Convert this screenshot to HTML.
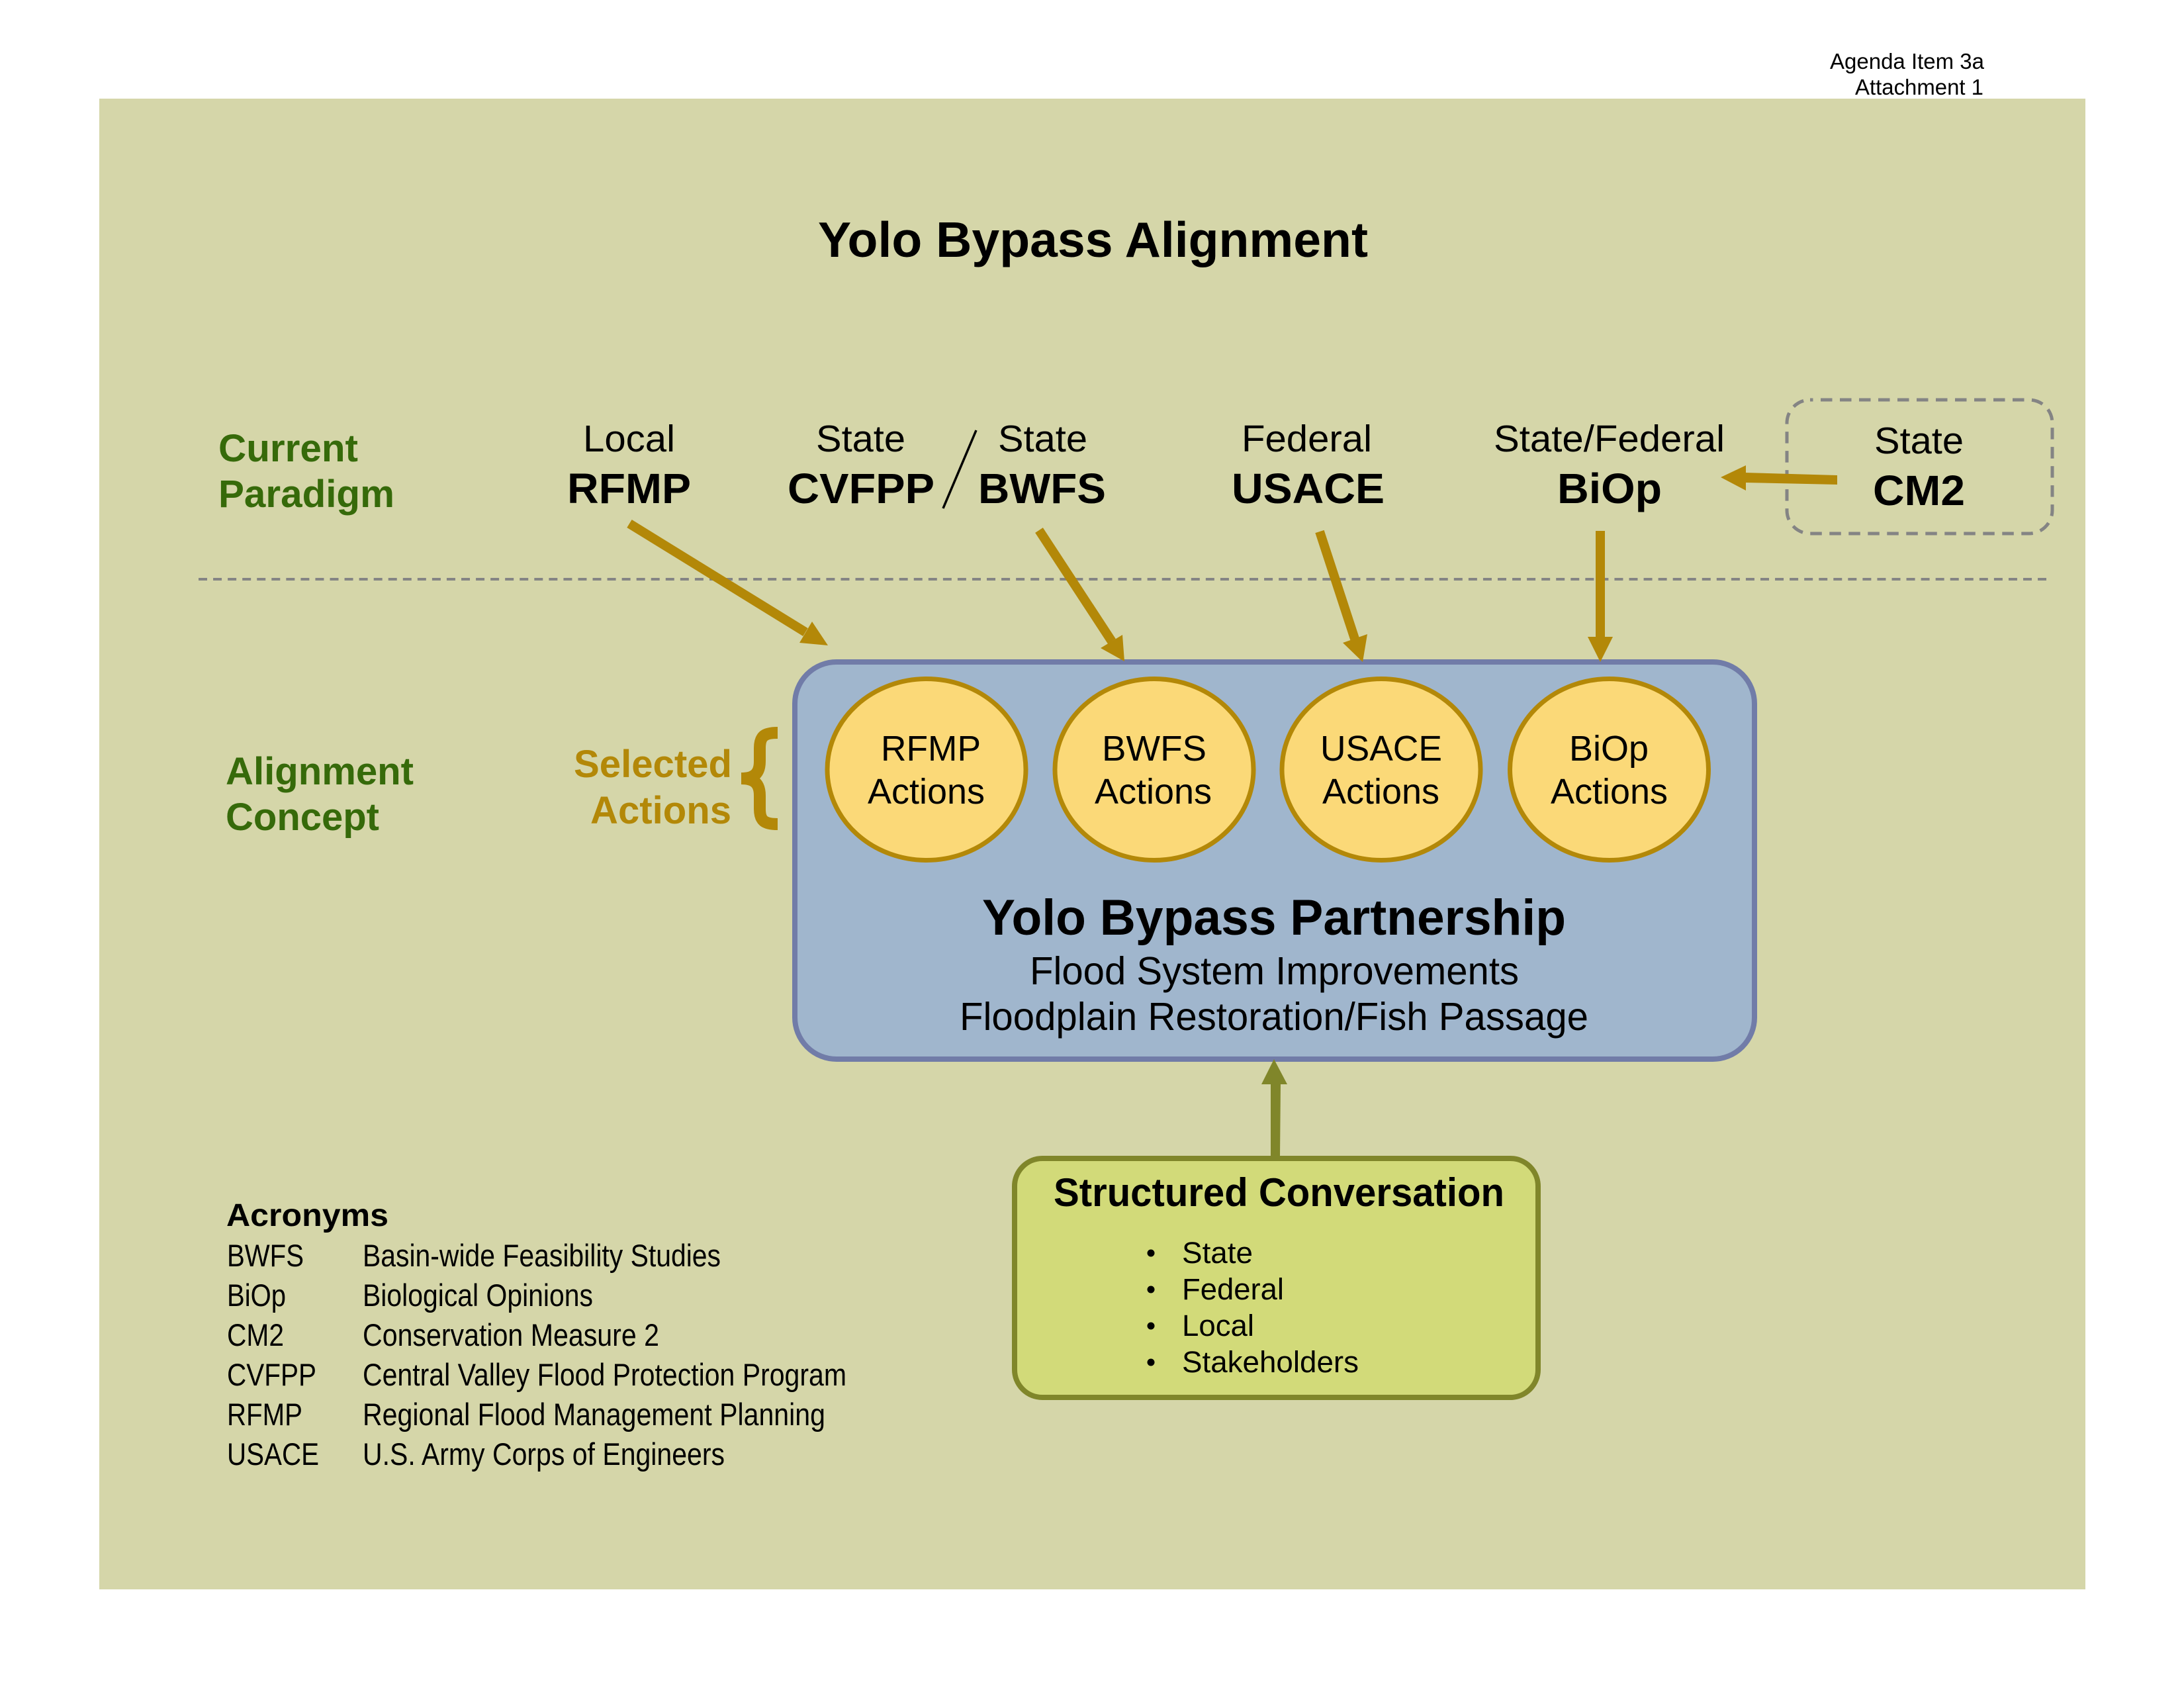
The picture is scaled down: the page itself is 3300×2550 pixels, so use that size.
<!DOCTYPE html>
<html>
<head>
<meta charset="utf-8">
<title>Yolo Bypass Alignment</title>
<style>
html,body{margin:0;padding:0;background:#fff;width:3300px;height:2550px;overflow:hidden}
svg{display:block}
text{font-family:"Liberation Sans",Arial,sans-serif;fill:#000}
.b{font-weight:bold}
.g{fill:#366a0a;font-weight:bold;font-size:58px}
.o{fill:#b38808;font-weight:bold;font-size:58px}
.l{font-size:57px}
.h{font-size:64px;font-weight:bold}
.c{font-size:54px}
.a{font-size:47px}
.s{font-size:45px}
</style>
</head>
<body>
<svg xmlns="http://www.w3.org/2000/svg" width="3300" height="2550" viewBox="0 0 3300 2550">
<rect width="3300" height="2550" fill="#fff"/>
<rect x="150" y="149" width="3001" height="2252" fill="#d5d6a9"/>

<text x="2765" y="104" font-size="33" textLength="233" lengthAdjust="spacingAndGlyphs">Agenda Item 3a</text>
<text x="2803" y="143" font-size="33" textLength="194" lengthAdjust="spacingAndGlyphs">Attachment 1</text>

<text x="1236" y="388" class="b" font-size="75" textLength="831" lengthAdjust="spacingAndGlyphs">Yolo Bypass Alignment</text>

<text x="330" y="697" class="g" textLength="211" lengthAdjust="spacingAndGlyphs">Current</text>
<text x="330" y="766" class="g" textLength="266" lengthAdjust="spacingAndGlyphs">Paradigm</text>
<text x="341" y="1185" class="g" textLength="284" lengthAdjust="spacingAndGlyphs">Alignment</text>
<text x="341" y="1254" class="g" textLength="232" lengthAdjust="spacingAndGlyphs">Concept</text>

<text x="881" y="682" class="l" textLength="139" lengthAdjust="spacingAndGlyphs">Local</text>
<text x="857" y="760" class="h" textLength="187" lengthAdjust="spacingAndGlyphs">RFMP</text>
<text x="1233" y="682" class="l" textLength="135" lengthAdjust="spacingAndGlyphs">State</text>
<text x="1190" y="760" class="h" textLength="222" lengthAdjust="spacingAndGlyphs">CVFPP</text>
<line x1="1475" y1="650" x2="1425" y2="768" stroke="#000" stroke-width="3.5"/>
<text x="1508" y="682" class="l" textLength="135" lengthAdjust="spacingAndGlyphs">State</text>
<text x="1478" y="760" class="h" textLength="193" lengthAdjust="spacingAndGlyphs">BWFS</text>
<text x="1876" y="682" class="l" textLength="197" lengthAdjust="spacingAndGlyphs">Federal</text>
<text x="1861" y="760" class="h" textLength="231" lengthAdjust="spacingAndGlyphs">USACE</text>
<text x="2257" y="682" class="l" textLength="349" lengthAdjust="spacingAndGlyphs">State/Federal</text>
<text x="2353" y="760" class="h" textLength="158" lengthAdjust="spacingAndGlyphs">BiOp</text>

<rect x="2700" y="604" width="401" height="202" rx="35" ry="35" fill="none" stroke="#848484" stroke-width="5" stroke-dasharray="17.5 11.5" stroke-dashoffset="13"/>
<text x="2832" y="685" class="l" textLength="135" lengthAdjust="spacingAndGlyphs">State</text>
<text x="2830" y="763" class="h" textLength="139" lengthAdjust="spacingAndGlyphs">CM2</text>

<line x1="300" y1="875" x2="3092" y2="875" stroke="#848484" stroke-width="4" stroke-dasharray="13 9.056"/>

<g fill="#b38808" stroke="none">
<polygon points="2776,718 2776,732 2636,729 2636,714"/>
<polygon points="2600,721 2638,703 2638,741"/>
</g>

<rect x="1201" y="1000" width="1450" height="600" rx="63" ry="63" fill="#a0b6cd" stroke="#717ca8" stroke-width="8"/>

<g stroke="#b38808" stroke-width="14" fill="none">
<line x1="951" y1="791" x2="1217" y2="955"/>
<line x1="1570" y1="801" x2="1680" y2="969"/>
<line x1="1994" y1="803" x2="2047" y2="965"/>
<line x1="2418" y1="802" x2="2418" y2="964"/>
</g>
<g fill="#b38808">
<polygon points="1251,975 1227,939 1208,971"/>
<polygon points="1699,999 1696,959 1663,979"/>
<polygon points="2059,1000 2066,958 2029,971"/>
<polygon points="2418,1000 2399,962 2437,962"/>
</g>

<g fill="#fbd978" stroke="#b38808" stroke-width="7">
<ellipse cx="1400" cy="1162.5" rx="150" ry="137"/>
<ellipse cx="1744" cy="1162.5" rx="150" ry="137"/>
<ellipse cx="2087" cy="1162.5" rx="150" ry="137"/>
<ellipse cx="2431.5" cy="1162.5" rx="150" ry="137"/>
</g>
<text x="1331" y="1149" class="c" textLength="151" lengthAdjust="spacingAndGlyphs">RFMP</text>
<text x="1311" y="1214" class="c" textLength="177" lengthAdjust="spacingAndGlyphs">Actions</text>
<text x="1665" y="1149" class="c" textLength="158" lengthAdjust="spacingAndGlyphs">BWFS</text>
<text x="1654" y="1214" class="c" textLength="177" lengthAdjust="spacingAndGlyphs">Actions</text>
<text x="1995" y="1149" class="c" textLength="184" lengthAdjust="spacingAndGlyphs">USACE</text>
<text x="1998" y="1214" class="c" textLength="177" lengthAdjust="spacingAndGlyphs">Actions</text>
<text x="2371" y="1149" class="c" textLength="120" lengthAdjust="spacingAndGlyphs">BiOp</text>
<text x="2343" y="1214" class="c" textLength="177" lengthAdjust="spacingAndGlyphs">Actions</text>

<text x="867" y="1174" class="o" textLength="239" lengthAdjust="spacingAndGlyphs">Selected</text>
<text x="892" y="1244" class="o" textLength="213" lengthAdjust="spacingAndGlyphs">Actions</text>
<path d="M1175,1107 C1155,1107 1148,1112 1148,1130 L1148,1150 C1148,1168 1140,1176 1120,1176 C1140,1176 1148,1184 1148,1202 L1148,1222 C1148,1240 1155,1245 1175,1245" fill="none" stroke="#b38808" stroke-width="18"/>

<text x="1484" y="1412" class="b" font-size="76" textLength="882" lengthAdjust="spacingAndGlyphs">Yolo Bypass Partnership</text>
<text x="1556" y="1487" font-size="59" textLength="739" lengthAdjust="spacingAndGlyphs">Flood System Improvements</text>
<text x="1450" y="1556" font-size="59" textLength="950" lengthAdjust="spacingAndGlyphs">Floodplain Restoration/Fish Passage</text>

<polygon points="1920,1636 1935,1636 1934,1747 1920,1747" fill="#80862a"/>
<polygon points="1925,1600 1906,1638 1945,1638" fill="#80862a"/>

<rect x="1533" y="1750" width="791" height="361" rx="42" ry="42" fill="#d2da79" stroke="#80862a" stroke-width="8"/>
<text x="1592" y="1822" class="b" font-size="60" textLength="681" lengthAdjust="spacingAndGlyphs">Structured Conversation</text>
<g fill="#000">
<circle cx="1739" cy="1893" r="5.5"/>
<circle cx="1739" cy="1948" r="5.5"/>
<circle cx="1739" cy="2003" r="5.5"/>
<circle cx="1739" cy="2058" r="5.5"/>
</g>
<text x="1786" y="1908" class="s" textLength="107" lengthAdjust="spacingAndGlyphs">State</text>
<text x="1786" y="1963" class="s" textLength="154" lengthAdjust="spacingAndGlyphs">Federal</text>
<text x="1786" y="2018" class="s" textLength="109" lengthAdjust="spacingAndGlyphs">Local</text>
<text x="1786" y="2073" class="s" textLength="267" lengthAdjust="spacingAndGlyphs">Stakeholders</text>

<text x="342" y="1852" class="b" font-size="48" textLength="245" lengthAdjust="spacingAndGlyphs">Acronyms</text>
<text x="343" y="1913" class="a" textLength="116" lengthAdjust="spacingAndGlyphs">BWFS</text>
<text x="548" y="1913" class="a" textLength="541" lengthAdjust="spacingAndGlyphs">Basin-wide Feasibility Studies</text>
<text x="343" y="1973" class="a" textLength="89" lengthAdjust="spacingAndGlyphs">BiOp</text>
<text x="548" y="1973" class="a" textLength="348" lengthAdjust="spacingAndGlyphs">Biological Opinions</text>
<text x="343" y="2033" class="a" textLength="86" lengthAdjust="spacingAndGlyphs">CM2</text>
<text x="548" y="2033" class="a" textLength="448" lengthAdjust="spacingAndGlyphs">Conservation Measure 2</text>
<text x="343" y="2093" class="a" textLength="135" lengthAdjust="spacingAndGlyphs">CVFPP</text>
<text x="548" y="2093" class="a" textLength="731" lengthAdjust="spacingAndGlyphs">Central Valley Flood Protection Program</text>
<text x="343" y="2153" class="a" textLength="114" lengthAdjust="spacingAndGlyphs">RFMP</text>
<text x="548" y="2153" class="a" textLength="699" lengthAdjust="spacingAndGlyphs">Regional Flood Management Planning</text>
<text x="343" y="2213" class="a" textLength="139" lengthAdjust="spacingAndGlyphs">USACE</text>
<text x="548" y="2213" class="a" textLength="547" lengthAdjust="spacingAndGlyphs">U.S. Army Corps of Engineers</text>
</svg>
</body>
</html>
